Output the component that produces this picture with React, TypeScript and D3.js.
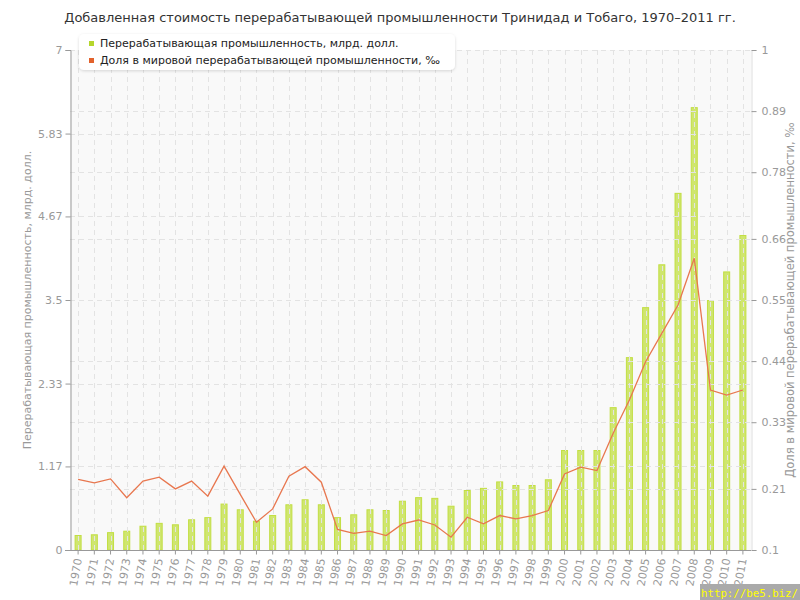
import { useEffect, useRef } from 'react';
import * as d3 from 'd3';

const years = d3.range(1970, 2012).map(String);

// value added, bn USD (left axis)
const valueAdded = [
  0.21, 0.22, 0.25, 0.27, 0.34, 0.38, 0.36, 0.43, 0.46, 0.65,
  0.57, 0.41, 0.49, 0.64, 0.71, 0.64, 0.46, 0.5, 0.57, 0.56,
  0.69, 0.74, 0.73, 0.62, 0.84, 0.87, 0.96, 0.91, 0.91, 0.99,
  1.4, 1.4, 1.4, 2.0, 2.7, 3.4, 4.0, 5.0, 6.2, 3.5,
  3.9, 4.41,
];

// share of world manufacturing, per mille (right axis)
const worldShare = [
  0.227, 0.221, 0.228, 0.194, 0.224, 0.231, 0.21, 0.224, 0.197, 0.251,
  0.2, 0.15, 0.174, 0.233, 0.25, 0.222, 0.137, 0.13, 0.134, 0.126,
  0.147, 0.154, 0.145, 0.123, 0.159, 0.147, 0.162, 0.156, 0.162, 0.171,
  0.237, 0.249, 0.243, 0.31, 0.37, 0.439, 0.49, 0.541, 0.625, 0.388,
  0.379, 0.388,
];

const leftTicks = [0, 1.17, 2.33, 3.5, 4.67, 5.83, 7];
const rightTicks = [0.1, 0.21, 0.33, 0.44, 0.55, 0.66, 0.78, 0.89, 1];

const title =
  'Добавленная стоимость перерабатывающей промышленности Тринидад и Тобаго, 1970–2011 гг.';
const leftTitle = 'Перерабатывающая промышленность, млрд. долл.';
const rightTitle = 'Доля в мировой перерабатывающей промышленности, ‰';
const legendItems = [
  { label: 'Перерабатывающая промышленность, млрд. долл.', color: '#b5d62c' },
  { label: 'Доля в мировой перерабатывающей промышленности, ‰', color: '#e2622c' },
];

const W = 800;
const H = 600;

export default function App() {
  const ref = useRef<SVGSVGElement | null>(null);

  useEffect(() => {
    const svg = d3.select(ref.current);
    svg.selectAll('*').remove();

    const left = 70;
    const right = 751;
    const top = 50;
    const bottom = 550;
    const font = 'DejaVu Sans, Verdana, sans-serif';
    const grey = '#999';

    const x = d3.scaleBand().domain(years).range([left, right]).padding(0);
    const yL = d3.scaleLinear().domain([0, 7]).range([bottom, top]);
    const yR = d3.scaleLinear().domain([0.1, 1]).range([bottom, top]);
    const cx = (d: string) => (x(d) as number) + x.bandwidth() / 2;

    svg.append('rect').attr('width', W).attr('height', H).attr('fill', '#fff');

    // title
    svg
      .append('text')
      .attr('x', W / 2)
      .attr('y', 22)
      .attr('text-anchor', 'middle')
      .style('font-family', font)
      .style('font-size', '13px')
      .attr('fill', '#333')
      .text(title);

    // plot background
    svg
      .append('rect')
      .attr('x', left)
      .attr('y', top)
      .attr('width', right - left)
      .attr('height', bottom - top)
      .attr('fill', '#f9f9f9');

    // bars
    const barW = 7;
    svg
      .append('g')
      .selectAll('rect')
      .data(valueAdded)
      .enter()
      .append('rect')
      .attr('x', (d, i) => cx(years[i]) - barW / 2 + 0.5)
      .attr('y', (d) => yL(d) + 0.5)
      .attr('width', barW - 1)
      .attr('height', (d) => bottom - yL(d) - 0.5)
      .attr('fill', '#cfe66e')
      .attr('stroke', '#c2de43')
      .attr('stroke-width', 1);

    // grid
    const grid = svg.append('g').attr('stroke', '#e3e3e3').attr('stroke-dasharray', '5,4');
    grid
      .selectAll('line.v')
      .data(years)
      .enter()
      .append('line')
      .attr('x1', (d) => Math.round(cx(d)) + 0.5)
      .attr('x2', (d) => Math.round(cx(d)) + 0.5)
      .attr('y1', top)
      .attr('y2', bottom);
    grid
      .selectAll('line.hl')
      .data(leftTicks.slice(1))
      .enter()
      .append('line')
      .attr('x1', left)
      .attr('x2', right)
      .attr('y1', (d) => Math.round(yL(d)) + 0.5)
      .attr('y2', (d) => Math.round(yL(d)) + 0.5);
    grid
      .selectAll('line.hr')
      .data(rightTicks.slice(1))
      .enter()
      .append('line')
      .attr('x1', left)
      .attr('x2', right)
      .attr('y1', (d) => Math.round(yR(d)) + 0.5)
      .attr('y2', (d) => Math.round(yR(d)) + 0.5);

    // line
    const line = d3
      .line<number>()
      .x((d, i) => cx(years[i]))
      .y((d) => yR(d));
    svg
      .append('path')
      .datum(worldShare)
      .attr('d', line)
      .attr('fill', 'none')
      .attr('stroke', '#e8774f')
      .attr('stroke-width', 1.3);

    // left axis
    const gL = svg
      .append('g')
      .attr('transform', `translate(${left + 0.5},0)`)
      .call(
        d3
          .axisLeft(yL)
          .tickValues(leftTicks)
          .tickSize(5)
          .tickPadding(3)
          .tickFormat((d) => String(d)),
      );
    gL.selectAll('path,line').attr('stroke', grey);
    gL.selectAll('text').attr('fill', grey).style('font-family', font).style('font-size', '11px');

    // right axis
    const gR = svg
      .append('g')
      .attr('transform', `translate(${right + 0.5},0)`)
      .call(
        d3
          .axisRight(yR)
          .tickValues(rightTicks)
          .tickSize(5)
          .tickPadding(5)
          .tickFormat((d) => String(d)),
      );
    gR.select('path').attr('stroke', '#ddd');
    gR.selectAll('line').attr('stroke', grey);
    gR.selectAll('text').attr('fill', grey).style('font-family', font).style('font-size', '11px');

    // bottom axis
    const gB = svg
      .append('g')
      .attr('transform', `translate(0,${bottom + 0.5})`)
      .call(d3.axisBottom(x).tickSize(4).tickSizeOuter(0));
    gB.select('path').attr('stroke', grey).attr('d', `M${left - 5},0H${right}`);
    gB.selectAll('line').attr('stroke', grey);
    gB
      .selectAll('text')
      .attr('fill', grey)
      .style('font-family', font)
      .style('font-size', '11px')
      .attr('text-anchor', 'end')
      .attr('dy', '0.35em')
      .attr('transform', 'translate(0,8) rotate(-80)')
      .attr('x', 0)
      .attr('y', 0);

    // axis titles
    svg
      .append('text')
      .attr('transform', `translate(31,${(top + bottom) / 2}) rotate(-90)`)
      .attr('text-anchor', 'middle')
      .style('font-family', font)
      .style('font-size', '11px')
      .attr('fill', grey)
      .text(leftTitle);
    svg
      .append('text')
      .attr('transform', `translate(794,300) rotate(-90)`)
      .attr('text-anchor', 'middle')
      .style('font-family', font)
      .style('font-size', '11.5px')
      .attr('fill', grey)
      .text(rightTitle);

    // legend
    const defs = svg.append('defs');
    const f = defs.append('filter').attr('id', 'sh').attr('x', '-10%').attr('y', '-30%').attr('width', '120%').attr('height', '160%');
    f.append('feDropShadow').attr('dx', 0).attr('dy', 1).attr('stdDeviation', 1.5).attr('flood-color', '#000').attr('flood-opacity', 0.15);
    const lg = svg.append('g');
    lg.append('rect')
      .attr('x', 79)
      .attr('y', 34)
      .attr('width', 376)
      .attr('height', 36)
      .attr('rx', 5)
      .attr('fill', '#fff')
      .attr('filter', 'url(#sh)');
    legendItems.forEach((it, i) => {
      lg.append('rect')
        .attr('x', 89)
        .attr('y', 41 + i * 17)
        .attr('width', 5)
        .attr('height', 5)
        .attr('fill', it.color);
      lg.append('text')
        .attr('x', 100)
        .attr('y', 47 + i * 17)
        .style('font-family', font)
        .style('font-size', '11px')
        .attr('fill', '#222')
        .text(it.label);
    });

    // watermark
    svg.append('rect').attr('x', 700).attr('y', 584).attr('width', 100).attr('height', 16).attr('fill', '#aaa');
    svg
      .append('text')
      .attr('x', 701)
      .attr('y', 597)
      .attr('textLength', 97)
      .attr('lengthAdjust', 'spacingAndGlyphs')
      .style('font-family', 'DejaVu Sans Mono, monospace')
      .style('font-size', '11px')
      .attr('fill', '#ffff00')
      .text('http://be5.biz/');
  }, []);

  return (
    <svg
      ref={ref}
      width={W}
      height={H}
      style={{ display: 'block', position: 'absolute', left: 0, top: 0 }}
    />
  );
}
